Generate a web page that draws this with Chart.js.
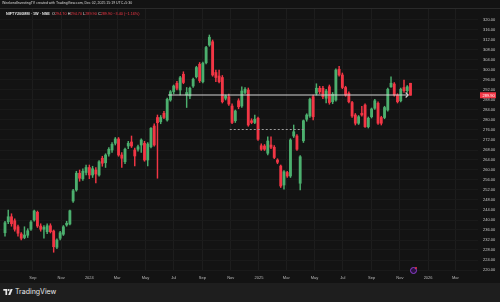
<!DOCTYPE html>
<html><head><meta charset="utf-8">
<script src="https://cdn.jsdelivr.net/npm/chart.js@4.4.1/dist/chart.umd.min.js"></script>
<style>
html,body{margin:0;padding:0;width:500px;height:302px;overflow:hidden;background:#131313;font-family:"Liberation Sans","DejaVu Sans",Arial,sans-serif}
#wrap{position:absolute;left:0;top:0;width:500px;height:283px}
#hdr1{position:absolute;left:2px;top:1px;font-size:3.5px;line-height:5px;color:#d8d8d8;white-space:nowrap}
#sep{position:absolute;left:0;top:8px;width:500px;height:1px;background:#2a2a2a}
#hdr2{position:absolute;left:6px;top:11.5px;font-size:3.8px;line-height:5px;color:#e0e0e0;white-space:nowrap}
#hdr2 b{font-weight:bold;color:#e8e8e8}
#hdr2 .v{color:#f23645}
#footer{position:absolute;left:0;top:283px;width:500px;height:19px;background:#1e1e1e}
#tvtext{position:absolute;left:15px;top:288px;font-size:7px;line-height:8px;color:#e8e8e8;font-family:"Inter","Liberation Sans",sans-serif}
#logo{position:absolute;left:3px;top:289px}
#evt{position:absolute;left:410px;top:267px;width:5px;height:5px;border-radius:50%;border:1px solid #8e3fd0;background:#2a1140}
#evt i{position:absolute;left:3.5px;top:-1.5px;width:2px;height:2px;border-radius:50%;background:#f23645}
</style>
</head><body>
<div id="wrap"><canvas id="c" width="500" height="283"></canvas></div>
<div id="sep"></div>
<div id="hdr1">WeekendInvestingTV created with TradingView.com, Dec 02, 2025 15:19 UTC+5:30</div>
<div id="hdr2"><b>NIFTY200MM · 1W · NSE</b>&nbsp; O<span class="v">294.70</span> H<span class="v">294.70</span> L<span class="v">289.90</span> C<span class="v">289.90</span> <span class="v">−3.40 (−1.16%)</span></div>
<div id="evt"><i></i></div>
<div id="footer"></div>
<svg id="logo" width="10" height="6" viewBox="0 0 11 7"><rect x="0" y="0" width="4.5" height="2" fill="#e8e8e8"/><rect x="2.5" y="0" width="2" height="7" fill="#e8e8e8"/><circle cx="6.3" cy="1.2" r="1.2" fill="#e8e8e8"/><polygon points="8.5,0 11,0 8.2,7 5.7,7" fill="#e8e8e8"/></svg>
<div id="tvtext">TradingView</div>
<script>
// weekly candles, first week starting Jul 3, 2023 (x value = days since then)
const opens  = [234.9,239.3,241.3,239.7,237.3,234.4,233.0,233.9,236.3,240.0,243.1,237.6,236.3,235.3,237.7,235.6,229.1,232.7,234.3,238.0,238.4,247.6,252.0,258.7,256.5,259.0,261.0,258.0,260.0,258.0,264.7,262.9,266.4,268.0,270.7,272.4,266.0,263.3,269.6,271.2,268.0,268.3,270.0,270.7,264.0,269.3,277.6,281.0,279.3,282.7,280.0,288.0,291.3,294.7,292.0,298.3,290.0,289.6,293.6,297.3,302.3,295.3,302.9,310.0,311.3,299.0,297.6,297.0,288.7,289.3,285.6,279.7,287.7,285.6,291.0,292.0,279.7,279.0,280.7,269.7,269.6,266.7,270.0,269.1,264.0,261.6,254.0,259.0,257.6,273.6,273.6,254.7,271.7,280.3,281.6,289.3,290.7,292.7,292.7,288.7,293.3,287.3,288.0,300.3,298.0,293.0,290.7,287.0,282.0,278.7,282.7,286.0,277.3,281.3,284.7,286.7,281.0,281.0,284.0,293.3,294.4,290.0,287.7,293.0,291.7,294.7];
const highs  = [239.5,244.0,242.5,240.5,238.0,235.0,237.3,236.5,239.8,244.0,243.6,238.5,237.8,238.5,238.5,236.0,232.5,235.5,237.8,239.5,244.0,252.3,259.5,260.0,260.5,262.0,262.0,261.5,261.0,263.8,265.5,266.5,269.0,271.0,273.0,273.0,267.0,268.8,271.5,273.6,268.8,270.0,272.5,271.5,271.0,277.0,278.5,282.0,281.8,283.5,288.8,291.8,294.0,295.5,297.5,299.3,293.0,293.2,296.8,301.5,303.0,303.2,309.5,314.0,312.0,300.0,300.0,297.8,290.0,290.4,286.5,284.0,288.5,293.3,293.0,292.8,280.5,282.0,281.2,270.5,270.2,273.3,273.3,269.8,264.5,262.0,259.8,259.5,272.5,278.0,274.2,265.8,280.0,282.5,288.8,290.0,294.5,293.5,293.5,292.3,294.0,291.0,300.5,301.5,298.8,293.5,291.3,287.5,282.6,281.8,285.5,286.5,281.2,284.8,288.3,287.3,281.5,285.5,292.8,297.3,295.0,290.5,292.8,296.0,293.8,294.7];
const lows   = [233.5,238.5,237.5,235.5,233.5,232.0,232.5,233.0,235.8,239.5,237.0,235.5,232.7,234.5,234.8,227.1,228.5,232.0,233.8,237.5,238.0,247.0,251.5,255.5,255.8,258.0,256.5,257.0,254.8,257.5,261.5,261.0,265.5,267.0,270.0,265.5,261.0,262.5,268.5,269.0,261.6,267.5,267.0,263.5,261.6,268.8,269.5,256.7,278.5,280.5,279.5,287.5,290.5,292.0,290.0,294.5,285.0,288.5,293.0,296.8,295.0,294.8,302.4,309.5,297.5,295.3,294.8,286.8,288.0,285.8,278.5,279.0,284.5,285.0,290.5,277.5,278.5,278.5,271.8,267.8,267.8,266.0,268.5,264.5,262.5,253.0,252.3,257.0,257.0,273.0,267.8,252.0,271.0,279.5,281.0,280.0,290.0,290.5,288.5,286.8,286.3,286.5,287.5,297.5,292.5,289.5,286.8,281.0,278.0,278.2,281.5,277.0,276.8,280.8,284.2,278.2,278.0,280.5,283.5,293.0,289.5,286.8,287.2,291.0,291.0,289.9];
const closes = [238.9,241.3,238.5,236.3,234.7,232.7,234.0,235.7,239.2,243.6,237.6,236.3,237.1,237.7,235.3,229.3,232.0,234.9,237.3,238.7,243.7,251.7,258.7,256.7,259.5,261.0,258.0,260.5,258.4,263.3,262.7,266.0,268.3,270.3,272.4,266.0,264.7,268.3,270.7,269.6,265.6,269.3,272.0,264.0,270.4,276.7,270.0,278.9,281.0,281.0,288.3,291.3,293.6,292.7,296.9,295.0,291.0,292.7,296.3,301.0,295.7,302.7,309.0,313.1,298.0,297.0,295.3,287.3,289.6,286.4,279.0,283.6,285.3,291.6,292.3,278.0,279.0,280.3,272.3,268.3,268.3,271.6,269.1,265.0,263.1,253.6,259.3,257.6,272.0,275.3,268.3,265.3,279.7,282.0,288.3,281.3,292.7,291.3,289.3,291.6,287.0,290.3,300.0,298.0,293.0,290.0,287.3,281.6,278.7,281.3,282.0,277.3,280.7,284.4,287.7,278.7,278.7,285.0,292.3,294.7,290.0,287.3,292.3,291.7,293.3,289.9];

// x-axis month ticks (days since Jul 3, 2023)
const tickDays   = [60,121,182,242,303,364,426,487,548,607,668,729,791,852,913,972];
const tickLabels = ['Sep','Nov','2024','Mar','May','Jul','Sep','Nov','2025','Mar','May','Jul','Sep','Nov','2026','Mar'];
// price-scale ticks
const yTicks = [220,224,228,232,236,240,244,248,252,256,260,264,268,272,276,280,284,288,292,296,300,304,308,312,316,320];

// drawings: horizontal line (level, from day, to day) and dashed line
const hLine = [290.0, 352, 870];
const dLine = [276.3, 485, 647];

const UP = '#4caf6e', DOWN = '#f23645';
const colorOf = i => closes[i] >= opens[i] ? UP : DOWN;

const bodies = opens.map((o,i)=>({x:i*7, y:[o, closes[i]]}));
const wicks  = opens.map((o,i)=>({x:i*7, y:[lows[i], highs[i]]}));

const drawings = {
  id:'drawings',
  afterDatasetsDraw(chart){
    const {ctx, scales:{x, y}, chartArea:a} = chart;
    ctx.save();
    ctx.strokeStyle = '#9a9a9a'; ctx.lineWidth = 1; ctx.setLineDash([2,2]);
    let yy = Math.round(y.getPixelForValue(dLine[0]))+0.5;
    ctx.beginPath(); ctx.moveTo(x.getPixelForValue(dLine[1]), yy); ctx.lineTo(x.getPixelForValue(dLine[2]), yy); ctx.stroke();
    ctx.setLineDash([]);
    ctx.strokeStyle = '#d4d4d4'; ctx.lineWidth = 1.2;
    yy = y.getPixelForValue(hLine[0]);
    const x1 = x.getPixelForValue(hLine[1]), x2 = x.getPixelForValue(hLine[2]);
    ctx.beginPath(); ctx.moveTo(x1, yy); ctx.lineTo(x2, yy); ctx.stroke();
    ctx.beginPath(); ctx.moveTo(x2-2.5, yy-2.5); ctx.lineTo(x2, yy); ctx.lineTo(x2-2.5, yy+2.5); ctx.stroke();
    const last = closes[closes.length-1];
    const py = y.getPixelForValue(last);
    ctx.fillStyle = DOWN;
    ctx.fillRect(a.right+2, py-3, 16, 6);
    ctx.fillStyle = '#ffffff';
    ctx.font = '4px "Liberation Sans", Arial, sans-serif';
    ctx.textBaseline = 'middle'; ctx.textAlign = 'left';
    ctx.fillText(last.toFixed(2), a.right+4.5, py+0.3);
    ctx.restore();
  }
};

new Chart(document.getElementById('c'), {
  type:'bar',
  data:{datasets:[
    {data:bodies, backgroundColor:c=>colorOf(c.dataIndex), barThickness:2.2, minBarLength:1, grouped:false, borderWidth:0},
    {data:wicks, backgroundColor:c=>colorOf(c.dataIndex), barThickness:0.8, grouped:false, borderWidth:0}
  ]},
  options:{
    responsive:false, animation:false, events:[],
    layout:{padding:{top:9,left:0,right:0,bottom:0}},
    plugins:{legend:{display:false}, tooltip:{enabled:false}},
    scales:{
      x:{type:'linear', min:-10.8, max:1020.7, offset:false,
        grid:{color:'#1d1d1d', offset:false, drawTicks:false},
        border:{display:false},
        afterBuildTicks:s=>{s.ticks = tickDays.map(v=>({value:v}));},
        afterFit:s=>{s.height = 12;},
        ticks:{color:'#b8b8b8', font:{size:4, family:'"Liberation Sans", Arial, sans-serif'}, padding:4, maxRotation:0, autoSkip:false,
          callback:v=>tickLabels[tickDays.indexOf(v)]}},
      y:{type:'linear', position:'right', min:219.6, max:324.4, beginAtZero:false,
        grid:{color:'#1a1a1a', drawTicks:false},
        border:{display:false},
        afterBuildTicks:s=>{s.ticks = yTicks.map(v=>({value:v}));},
        afterFit:s=>{s.width = 22;},
        ticks:{color:'#c8c8c8', font:{size:4, family:'"Liberation Sans", Arial, sans-serif'}, padding:5,
          callback:v=>v.toFixed(2)}}
    }
  },
  plugins:[drawings]
});
</script>
</body></html>
